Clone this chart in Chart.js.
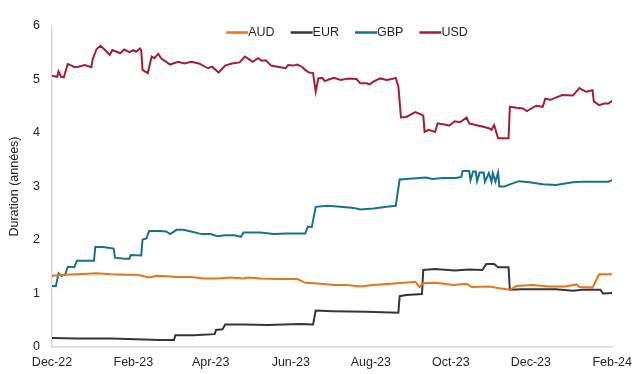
<!DOCTYPE html>
<html>
<head>
<meta charset="utf-8">
<script src="https://cdn.jsdelivr.net/npm/chart.js@4.4.1/dist/chart.umd.min.js"></script>
<style>
  html, body { margin: 0; padding: 0; background: #fff; }
  #wrap { width: 640px; height: 374px; position: relative; }
</style>
</head>
<body>
<div id="wrap"><canvas id="grafico"></canvas></div>
<script>
// jours depuis le 1er déc. 2022
const tickDays = [0, 62, 121, 182, 243, 304, 365, 427];
const tickLabels = ['Dec-22', 'Feb-23', 'Apr-23', 'Jun-23', 'Aug-23', 'Oct-23', 'Dec-23', 'Feb-24'];

const audDays = [0, 10, 20, 34, 45, 55, 65, 74, 80, 96, 106, 116, 126, 136, 146, 149, 159, 172, 187, 193, 205, 215, 225, 235, 245, 258, 268, 277, 280, 283, 290, 296, 306, 316, 320, 334, 341, 349, 354, 366, 379, 391, 400, 402, 412, 417, 427];
const audValues = [1.33, 1.35, 1.36, 1.38, 1.36, 1.35, 1.35, 1.30, 1.33, 1.31, 1.31, 1.28, 1.28, 1.30, 1.28, 1.30, 1.28, 1.27, 1.27, 1.20, 1.18, 1.16, 1.16, 1.13, 1.16, 1.18, 1.20, 1.22, 1.12, 1.19, 1.20, 1.19, 1.16, 1.18, 1.12, 1.13, 1.10, 1.07, 1.14, 1.16, 1.13, 1.13, 1.17, 1.12, 1.11, 1.36, 1.36];

const eurDays = [0, 20, 45, 70, 82, 93, 94, 108, 124, 125, 130, 132, 146, 164, 189, 199, 201, 214, 240, 264, 265, 270, 282, 283, 292, 307, 318, 328, 331, 337, 340, 348, 349, 358, 371, 384, 397, 404, 418, 420, 427];
const eurValues = [0.17, 0.16, 0.16, 0.14, 0.13, 0.13, 0.22, 0.22, 0.24, 0.32, 0.33, 0.42, 0.42, 0.41, 0.43, 0.42, 0.68, 0.67, 0.66, 0.64, 0.95, 0.97, 0.99, 1.44, 1.46, 1.43, 1.45, 1.44, 1.55, 1.55, 1.49, 1.49, 1.07, 1.08, 1.08, 1.08, 1.05, 1.07, 1.07, 1.00, 1.01];

const gbpDays = [0, 3, 5, 7, 10, 12, 17, 19, 32, 33, 39, 47, 48, 55, 59, 60, 68, 69, 72, 74, 82, 87, 90, 95, 100, 106, 114, 121, 126, 132, 139, 144, 146, 159, 169, 179, 193, 195, 198, 201, 210, 220, 230, 235, 245, 255, 262, 265, 275, 285, 290, 298, 308, 312, 313, 318, 319, 321, 323, 324, 326, 329, 330, 333, 335, 336, 338, 340, 341, 345, 349, 356, 364, 374, 384, 397, 404, 414, 424, 427];
const gbpValues = [1.14, 1.14, 1.38, 1.33, 1.35, 1.50, 1.49, 1.61, 1.61, 1.87, 1.87, 1.84, 1.67, 1.65, 1.65, 1.72, 1.71, 2.01, 2.03, 2.17, 2.17, 2.16, 2.11, 2.19, 2.19, 2.16, 2.11, 2.11, 2.07, 2.09, 2.09, 2.06, 2.14, 2.14, 2.11, 2.12, 2.12, 2.25, 2.24, 2.62, 2.64, 2.62, 2.60, 2.57, 2.59, 2.62, 2.64, 3.13, 3.15, 3.17, 3.14, 3.16, 3.16, 3.18, 3.29, 3.29, 3.12, 3.28, 3.28, 3.10, 3.26, 3.26, 3.09, 3.25, 3.09, 3.25, 3.09, 3.26, 3.00, 3.00, 3.04, 3.10, 3.08, 3.04, 3.03, 3.08, 3.09, 3.09, 3.09, 3.12];

const usdDays = [0, 4, 5, 7, 9, 12, 15, 17, 20, 25, 30, 31, 34, 37, 40, 44, 46, 52, 55, 59, 62, 64, 67, 68, 69, 73, 76, 78, 81, 83, 90, 96, 101, 106, 112, 119, 122, 127, 132, 137, 143, 147, 150, 153, 157, 160, 163, 167, 172, 178, 180, 184, 187, 191, 193, 196, 199, 201, 203, 206, 208, 211, 215, 220, 226, 232, 235, 240, 242, 245, 250, 255, 259, 262, 264, 266, 270, 277, 282, 283, 284, 287, 292, 294, 299, 303, 307, 311, 316, 318, 323, 328, 333, 335, 337, 340, 345, 348, 349, 354, 359, 362, 369, 374, 376, 380, 384, 389, 397, 402, 407, 412, 413, 417, 421, 424, 427];
const usdValues = [5.07, 5.05, 5.15, 5.05, 5.04, 5.29, 5.26, 5.23, 5.24, 5.27, 5.23, 5.38, 5.57, 5.63, 5.56, 5.46, 5.55, 5.49, 5.56, 5.51, 5.55, 5.52, 5.58, 5.55, 5.18, 5.12, 5.43, 5.40, 5.48, 5.40, 5.28, 5.33, 5.30, 5.33, 5.30, 5.21, 5.24, 5.13, 5.26, 5.30, 5.32, 5.43, 5.38, 5.33, 5.40, 5.35, 5.36, 5.26, 5.24, 5.21, 5.27, 5.26, 5.28, 5.23, 5.18, 5.13, 5.12, 4.77, 5.02, 5.03, 4.97, 5.00, 5.03, 4.99, 5.02, 5.01, 4.93, 4.93, 4.91, 4.96, 5.02, 4.99, 5.01, 5.03, 4.87, 4.29, 4.30, 4.39, 4.34, 4.32, 4.02, 4.06, 4.02, 4.18, 4.16, 4.14, 4.22, 4.20, 4.29, 4.18, 4.15, 4.12, 4.09, 4.06, 4.15, 3.90, 3.90, 3.90, 4.49, 4.47, 4.46, 4.41, 4.51, 4.49, 4.64, 4.62, 4.66, 4.71, 4.70, 4.84, 4.77, 4.80, 4.59, 4.52, 4.55, 4.55, 4.60];

const points = (days, values) => days.map((d, i) => ({ x: d, y: values[i] }));

const fontFamily = '"Liberation Sans", Arial, sans-serif';
const textColor = '#262626';

// légende posée sur le haut du graphique, comme dans Excel
const legendeHaut = {
  id: 'legendeHaut',
  afterDraw(chart) {
    const ctx = chart.ctx;
    const lineLen = 22;
    const gap = 16;
    ctx.save();
    ctx.font = '12.5px ' + fontFamily;
    ctx.textBaseline = 'middle';
    const items = chart.data.datasets.map(ds => ({
      label: ds.label, color: ds.borderColor,
      w: lineLen + ctx.measureText(ds.label).width
    }));
    const total = items.reduce((s, it) => s + it.w, 0) + gap * (items.length - 1);
    let x = chart.width / 2 + 27 - total / 2;
    const y = 32.5;
    items.forEach(it => {
      ctx.strokeStyle = it.color;
      ctx.lineWidth = 2.5;
      ctx.beginPath();
      ctx.moveTo(x, y);
      ctx.lineTo(x + lineLen, y);
      ctx.stroke();
      ctx.fillStyle = textColor;
      ctx.fillText(it.label, x + lineLen, y + 0.5);
      x += it.w + gap;
    });
    ctx.restore();
  }
};

const ctx = document.getElementById('grafico');

new Chart(ctx, {
  type: 'line',
  data: {
    datasets: [
      { label: 'AUD', data: points(audDays, audValues), borderColor: '#E8751A' },
      { label: 'EUR', data: points(eurDays, eurValues), borderColor: '#33363D' },
      { label: 'GBP', data: points(gbpDays, gbpValues), borderColor: '#16728F' },
      { label: 'USD', data: points(usdDays, usdValues), borderColor: '#A31F34' }
    ]
  },
  options: {
    responsive: true,
    maintainAspectRatio: false,
    animation: false,
    devicePixelRatio: 1,
    layout: { padding: { top: 26, right: 25, left: 0, bottom: 0 } },
    elements: {
      point: { radius: 0 },
      line: { borderWidth: 2, tension: 0 }
    },
    plugins: {
      legend: { display: false },
      tooltip: { enabled: false }
    },
    scales: {
      x: {
        type: 'linear',
        min: 0,
        max: 427,
        grid: { display: false, drawTicks: false },
        border: { display: true, color: '#d9d9d9', width: 1.5 },
        afterBuildTicks: (scale) => { scale.ticks = tickDays.map(v => ({ value: v })); },
        afterFit: (scale) => { scale.height = 27; },
        ticks: {
          autoSkip: false,
          maxRotation: 0,
          padding: 8,
          color: textColor,
          font: { family: fontFamily, size: 12.5 },
          callback: (v) => tickLabels[tickDays.indexOf(v)]
        }
      },
      y: {
        min: 0,
        max: 6,
        grid: { display: false, drawTicks: false },
        border: { display: true, color: '#d9d9d9', width: 1.5 },
        afterFit: (scale) => { scale.width = 52; },
        ticks: {
          stepSize: 1,
          padding: 12,
          color: textColor,
          font: { family: fontFamily, size: 12.5 }
        },
        title: {
          display: true,
          text: 'Duration (années)',
          color: textColor,
          padding: { top: 7, bottom: 0 },
          font: { family: fontFamily, size: 12.5 }
        }
      }
    }
  },
  plugins: [legendeHaut]
});
</script>
</body>
</html>
